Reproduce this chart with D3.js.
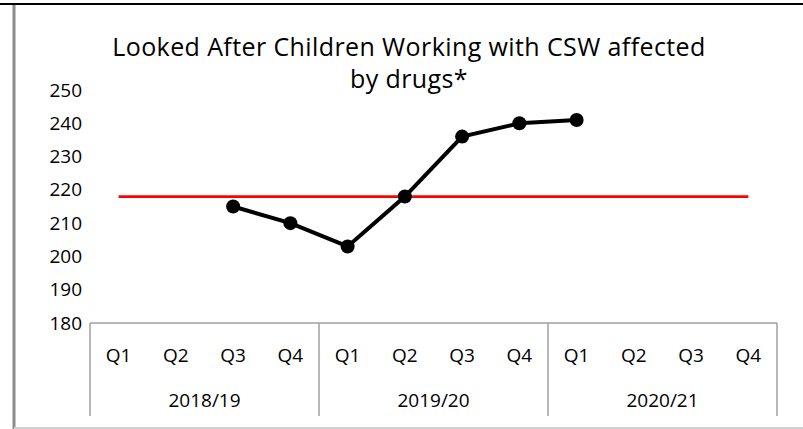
<!DOCTYPE html>
<html>
<head>
<meta charset="utf-8">
<script src="https://cdn.jsdelivr.net/npm/d3@7"></script>
<style>
  body { margin: 0; background: #fff; }
  text { font-family: "Open Sans", "Noto Sans", sans-serif; fill: #000; }
</style>
</head>
<body>
<div id="chart"></div>
<script>
// chart values
var years = ["2018/19", "2019/20", "2020/21"];
var quarters = ["Q1", "Q2", "Q3", "Q4"];
var lacValues = [null, null, 215, 210, 203, 218, 236, 240, 241, null, null, null];
var targetValues = [218, 218, 218, 218, 218, 218, 218, 218, 218, 218, 218, 218];
var yTicks = [180, 190, 200, 210, 220, 230, 240, 250];

var W = 803, H = 429;
var margin = { top: 90, right: 26, bottom: 106, left: 90 },
  width = W - margin.left - margin.right,
  height = H - margin.top - margin.bottom;

var svg = d3.select("#chart").append("svg")
  .attr("width", W)
  .attr("height", H);

// outer frame bits
svg.append("line").attr("x1", 0).attr("x2", W).attr("y1", 4).attr("y2", 4)
  .style("stroke", "#000").style("stroke-width", 2);
svg.append("line").attr("x1", 14).attr("x2", 14).attr("y1", 5).attr("y2", H)
  .style("stroke", "#8c8c8c").style("stroke-width", 3);
svg.append("line").attr("x1", 14).attr("x2", W).attr("y1", 428).attr("y2", 428)
  .style("stroke", "#d0d0d0").style("stroke-width", 2);

// title
var title = svg.append("text")
  .attr("text-anchor", "middle")
  .attr("font-size", "25px")
  .style("letter-spacing", "0.4px");
title.append("tspan").attr("x", 409).attr("y", 56).text("Looked After Children Working with CSW affected");
title.append("tspan").attr("x", 409).attr("y", 88).text("by drugs*");

var g = svg.append("g")
  .attr("transform", "translate(" + margin.left + "," + margin.top + ")");

var cats = [];
years.forEach(function (yr) {
  quarters.forEach(function (q) { cats.push(yr + "|" + q); });
});

var x = d3.scaleBand().domain(cats).range([0, width]);
var xYear = d3.scaleBand().domain(years).range([0, width]);
var y = d3.scaleLinear().domain([180, 250]).range([height, 0]);

// y axis labels
var yAxis = d3.axisLeft(y).tickValues(yTicks).tickSize(0).tickPadding(8);
var ya = g.append("g").call(yAxis);
ya.select(".domain").remove();
ya.selectAll("text").attr("font-size", "19px").style("font-family", "Open Sans, sans-serif");

// category box
var axisColor = "#a0a0a0";
g.append("line").attr("x1", 0).attr("x2", width).attr("y1", height).attr("y2", height)
  .style("stroke", axisColor).style("stroke-width", 1.5);

var bounds = years.map(function (yr) { return xYear(yr); }).concat([width]);
g.selectAll(".divider")
  .data(bounds)
  .enter()
  .append("line")
  .attr("class", "divider")
  .attr("x1", function (d) { return d; })
  .attr("x2", function (d) { return d; })
  .attr("y1", height)
  .attr("y2", height + 93)
  .style("stroke", axisColor)
  .style("stroke-width", 1.5);

g.selectAll(".qlab")
  .data(cats)
  .enter()
  .append("text")
  .attr("class", "qlab")
  .attr("x", function (d) { return x(d) + x.bandwidth() / 2; })
  .attr("y", height + 39)
  .attr("text-anchor", "middle")
  .attr("font-size", "19px")
  .text(function (d) { return d.split("|")[1]; });

g.selectAll(".ylab")
  .data(years)
  .enter()
  .append("text")
  .attr("class", "ylab")
  .attr("x", function (d) { return xYear(d) + xYear.bandwidth() / 2; })
  .attr("y", height + 84)
  .attr("text-anchor", "middle")
  .attr("font-size", "19px")
  .text(function (d) { return d; });

// target line
var cx = function (d, i) { return x(cats[i]) + x.bandwidth() / 2; };
var line = d3.line()
  .defined(function (d) { return d != null; })
  .x(cx)
  .y(function (d) { return y(d); });

g.append("path")
  .datum(targetValues)
  .attr("d", line)
  .style("fill", "none")
  .style("stroke", "#ff0000")
  .style("stroke-width", 2.75);

g.append("path")
  .datum(lacValues)
  .attr("d", line)
  .style("fill", "none")
  .style("stroke", "#000")
  .style("stroke-width", 4);

var pts = lacValues.map(function (v, i) { return { v: v, i: i }; })
  .filter(function (d) { return d.v != null; });

g.selectAll(".pt")
  .data(pts)
  .enter()
  .append("circle")
  .attr("class", "pt")
  .attr("cx", function (d) { return cx(d, d.i); })
  .attr("cy", function (d) { return y(d.v); })
  .attr("r", 7)
  .style("fill", "#000");
</script>
</body>
</html>
